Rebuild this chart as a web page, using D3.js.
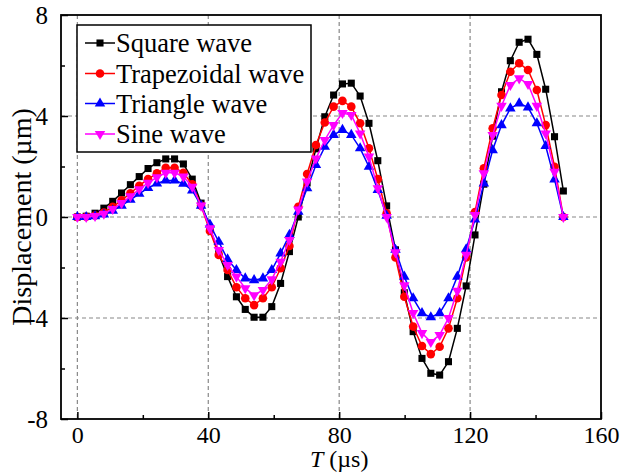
<!DOCTYPE html>
<html><head><meta charset="utf-8">
<script src="https://cdn.jsdelivr.net/npm/d3@7"></script>
<style>html,body{margin:0;padding:0;background:#fff;}svg{display:block;font-family:"Liberation Serif","Times New Roman",serif;}</style>
</head><body>
<svg id="chart" width="628" height="472"></svg>
<script>
const time = [0, 2.7, 5.4, 8.1, 10.8, 13.5, 16.2, 18.9, 21.6, 24.3, 27, 29.7, 32.4, 35.1, 37.8, 40.5, 43.2, 45.9, 48.6, 51.3, 54, 56.7, 59.4, 62.1, 64.8, 67.5, 70.2, 72.9, 75.6, 78.3, 81, 83.7, 86.4, 89.1, 91.8, 94.5, 97.2, 99.9, 102.6, 105.3, 108, 110.7, 113.4, 116.1, 118.8, 121.5, 124.2, 126.9, 129.6, 132.3, 135, 137.7, 140.4, 143.1, 145.8, 148.5];
const squareWave = [0, 0.03, 0.15, 0.35, 0.62, 0.95, 1.28, 1.6, 1.92, 2.15, 2.3, 2.3, 2.1, 1.5, 0.55, -0.45, -1.45, -2.36, -3.16, -3.66, -3.97, -3.97, -3.55, -2.63, -1.37, 0.0, 1.35, 2.7, 3.97, 4.83, 5.27, 5.3, 4.79, 3.71, 2.23, 0.44, -1.3, -3.0, -4.54, -5.6, -6.19, -6.26, -5.73, -4.41, -2.73, -0.71, 1.3, 3.2, 4.96, 6.19, 6.92, 7.04, 6.44, 5.06, 3.18, 1.03];
const trapezoidalWave = [0, 0.01, 0.06, 0.18, 0.4, 0.66, 0.94, 1.24, 1.5, 1.73, 1.95, 1.95, 1.75, 1.3, 0.45, -0.55, -1.5, -2.1, -2.78, -3.22, -3.49, -3.22, -2.78, -2.03, -1.15, 0.4, 1.7, 2.85, 3.74, 4.37, 4.6, 4.37, 3.71, 2.72, 1.5, 0.15, -1.6, -3.16, -4.34, -5.11, -5.43, -5.14, -4.41, -3.22, -1.6, 0.2, 1.93, 3.51, 4.83, 5.75, 6.09, 5.82, 5.03, 3.64, 1.99, 0];
const triangleWave = [0, 0.0, 0.03, 0.1, 0.25, 0.45, 0.68, 0.92, 1.15, 1.33, 1.45, 1.45, 1.32, 1.05, 0.45, -0.3, -0.98, -1.68, -2.1, -2.43, -2.5, -2.43, -2.1, -1.44, -0.71, 0.21, 1.14, 2.06, 2.78, 3.25, 3.45, 3.25, 2.72, 1.99, 1.07, 0.05, -1.3, -2.36, -3.22, -3.81, -3.97, -3.81, -3.22, -2.36, -1.28, -0.1, 1.33, 2.65, 3.64, 4.3, 4.5, 4.34, 3.71, 2.81, 1.49, 0];
const sineWave = [0, 0.0, 0.04, 0.13, 0.32, 0.55, 0.82, 1.1, 1.35, 1.57, 1.75, 1.75, 1.6, 1.2, 0.45, -0.45, -1.31, -1.9, -2.36, -2.82, -3.1, -2.89, -2.47, -1.77, -0.91, 0.3, 1.4, 2.32, 3.05, 3.64, 4.12, 4.04, 3.31, 2.39, 1.14, 0.0, -1.4, -2.7, -3.8, -4.6, -4.95, -4.67, -4.0, -2.92, -1.5, 0.08, 1.73, 3.25, 4.4, 5.23, 5.49, 5.27, 4.4, 3.31, 1.79, 0];
const seriesNames = ["Square wave", "Trapezoidal wave", "Triangle wave", "Sine wave"];
const seriesColors = ["#000000", "#ff0000", "#0000ff", "#ff00ff"];
const xTicks = [0, 40, 80, 120, 160];
const xMinorTicks = [20, 60, 100, 140];
const yTicks = [-8, -4, 0, 4, 8];
const yMinorTicks = [-6, -2, 2, 6];
const xGrid = [0, 40, 80, 120];
const yGrid = [-4, 0, 4];

const seriesValues = [squareWave, trapezoidalWave, triangleWave, sineWave];
const symbols = [
  {type: d3.symbolSquare, size: 50, rot: 0},
  {type: d3.symbolCircle, size: 58, rot: 0},
  {type: d3.symbolTriangle, size: 48, rot: 0},
  {type: d3.symbolTriangle, size: 48, rot: 180}
];
const FONT = "'Liberation Serif','Times New Roman',serif";

const svg = d3.select("#chart");
const L = 61, R = 601, T = 15, B = 419;
const x = d3.scaleLinear().domain([-5, 160]).range([L, R]);
const y = d3.scaleLinear().domain([-8, 8]).range([B, T]);

// grid
svg.append("g").selectAll("line").data(xGrid).join("line")
  .attr("x1", d => x(d)).attr("x2", d => x(d)).attr("y1", T).attr("y2", B)
  .attr("stroke", "#888").attr("stroke-width", 1.2).attr("stroke-dasharray", "4,3");
svg.append("g").selectAll("line").data(yGrid).join("line")
  .attr("x1", L).attr("x2", R).attr("y1", d => y(d)).attr("y2", d => y(d))
  .attr("stroke", "#888").attr("stroke-width", 1.2).attr("stroke-dasharray", "4,3");

// series
const line = d3.line().x((d, i) => x(time[i])).y(d => y(d));
seriesValues.forEach((vals, k) => {
  const g = svg.append("g");
  g.append("path").datum(vals).attr("d", line)
    .attr("fill", "none").attr("stroke", seriesColors[k]).attr("stroke-width", 1.5);
  const sym = d3.symbol().type(symbols[k].type).size(symbols[k].size);
  g.selectAll("path.m").data(vals).join("path").attr("class", "m")
    .attr("d", sym)
    .attr("transform", (d, i) => `translate(${x(time[i])},${y(d)}) rotate(${symbols[k].rot})`)
    .attr("fill", seriesColors[k]);
});

// axes
const fmt = d => String(d);
const xAxis = d3.axisBottom(x).tickValues(xTicks).tickSize(-7).tickPadding(7).tickFormat(fmt);
const gx = svg.append("g").attr("transform", `translate(0,${B})`).call(xAxis);
gx.attr("font-family", FONT);
gx.select(".domain").remove();
gx.selectAll(".tick line").attr("stroke", "#000").attr("stroke-width", 1.5);
gx.selectAll("text").attr("font-size", 24).attr("fill", "#000");
const xMinor = d3.axisBottom(x).tickValues(xMinorTicks).tickSize(-4).tickFormat("");
const gxm = svg.append("g").attr("transform", `translate(0,${B})`).call(xMinor);
gxm.select(".domain").remove();
gxm.selectAll(".tick line").attr("stroke", "#000").attr("stroke-width", 1.5);

const yAxis = d3.axisLeft(y).tickValues(yTicks).tickSize(-7).tickPadding(13).tickFormat(fmt);
const gy = svg.append("g").attr("transform", `translate(${L},0)`).call(yAxis);
gy.attr("font-family", FONT);
gy.select(".domain").remove();
gy.selectAll(".tick line").attr("stroke", "#000").attr("stroke-width", 1.5);
gy.selectAll("text").attr("font-size", 25).attr("fill", "#000");
const yMinor = d3.axisLeft(y).tickValues(yMinorTicks).tickSize(-4).tickFormat("");
const gym = svg.append("g").attr("transform", `translate(${L},0)`).call(yMinor);
gym.select(".domain").remove();
gym.selectAll(".tick line").attr("stroke", "#000").attr("stroke-width", 1.5);

// frame
svg.append("rect").attr("x", L).attr("y", T).attr("width", R - L).attr("height", B - T)
  .attr("fill", "none").attr("stroke", "#000").attr("stroke-width", 1.8);

// axis titles
const xt = svg.append("text").attr("x", x(80)).attr("y", 467).attr("text-anchor", "middle")
  .attr("font-size", 24).attr("fill", "#000").attr("font-family", FONT);
xt.append("tspan").attr("font-style", "italic").text("T");
xt.append("tspan").text(" (µs)");
svg.append("text").attr("transform", `translate(31,${y(0)}) rotate(-90)`)
  .attr("text-anchor", "middle").attr("font-size", 28).attr("fill", "#000").attr("font-family", FONT)
  .text("Displacement (µm)");

// legend
const lg = svg.append("g").attr("font-family", FONT);
lg.append("rect").attr("x", 77).attr("y", 25).attr("width", 234).attr("height", 127)
  .attr("fill", "#fff").attr("stroke", "#000").attr("stroke-width", 1.5);
const rowY = [43, 73.5, 103.5, 134];
seriesNames.forEach((name, k) => {
  lg.append("line").attr("x1", 85).attr("x2", 115).attr("y1", rowY[k]).attr("y2", rowY[k])
    .attr("stroke", seriesColors[k]).attr("stroke-width", 1.5);
  lg.append("path").attr("d", d3.symbol().type(symbols[k].type).size(symbols[k].size)())
    .attr("transform", `translate(100,${rowY[k]}) rotate(${symbols[k].rot})`)
    .attr("fill", seriesColors[k]);
  lg.append("text").attr("x", 116).attr("y", rowY[k] + 9).attr("font-size", 26.5)
    .attr("fill", "#000").text(name);
});
</script>
</body></html>
